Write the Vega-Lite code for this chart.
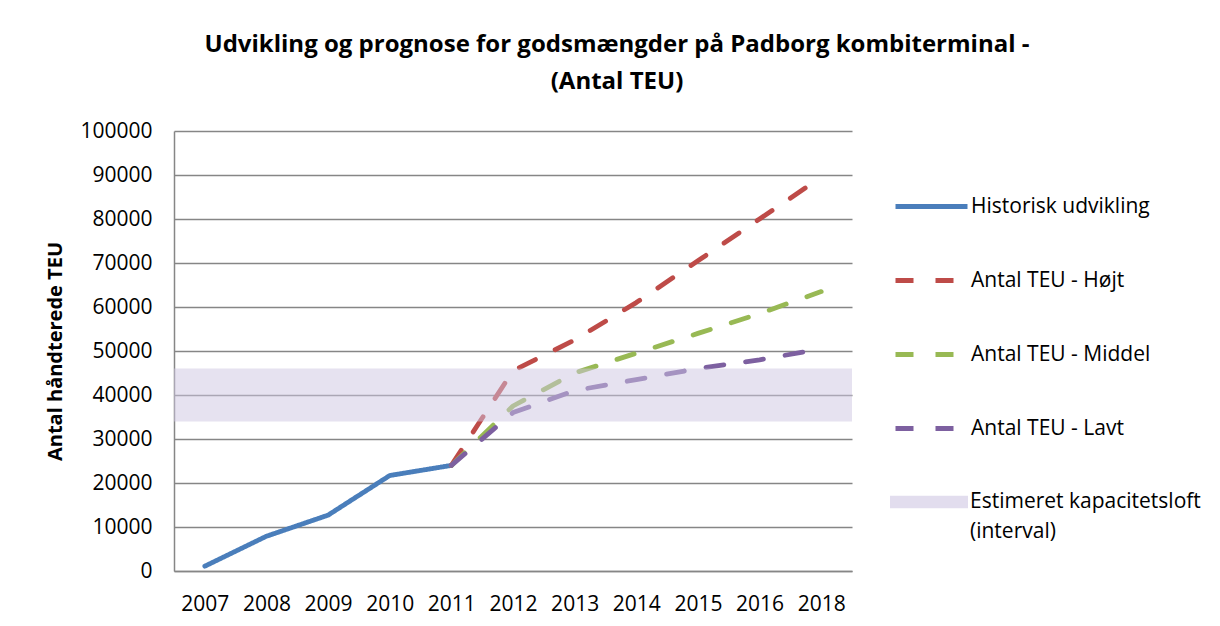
{
  "$schema": "https://vega.github.io/schema/vega-lite/v6.json",
  "width": 678,
  "height": 440,
  "autosize": {"type": "none"},
  "padding": {"left": 174, "top": 131, "right": 368, "bottom": 55},
  "background": "white",
  "title": {
    "text": ["Udvikling og prognose for godsmængder på Padborg kombiterminal -", "(Antal TEU)"],
    "font": "Open Sans",
    "fontSize": 24,
    "fontWeight": "bold",
    "color": "#000000",
    "lineHeight": 37,
    "anchor": "middle",
    "frame": "group",
    "dx": 104,
    "offset": 26
  },
  "config": {
    "view": {"stroke": null},
    "font": "Open Sans",
    "style": {"guide-label": {"lineHeight": 30}},
    "axis": {
      "labelFont": "Open Sans",
      "labelFontSize": 21,
      "labelColor": "#000000",
      "titleFont": "Open Sans",
      "domainColor": "#868686",
      "domainWidth": 1.5,
      "gridColor": "#868686",
      "gridWidth": 1.5,
      "ticks": false
    },
    "legend": {
      "labelFont": "Open Sans",
      "labelFontSize": 21,
      "labelColor": "#000000",
      "labelLimit": 400
    }
  },
  "datasets": {
    "lines": [
      {"year": "2007", "series": "Historisk udvikling", "teu": 1100},
      {"year": "2008", "series": "Historisk udvikling", "teu": 7900},
      {"year": "2009", "series": "Historisk udvikling", "teu": 12700},
      {"year": "2010", "series": "Historisk udvikling", "teu": 21700},
      {"year": "2011", "series": "Historisk udvikling", "teu": 24000},
      {"year": "2011", "series": "Antal TEU - Højt", "teu": 24000},
      {"year": "2012", "series": "Antal TEU - Højt", "teu": 45500},
      {"year": "2013", "series": "Antal TEU - Højt", "teu": 52500},
      {"year": "2014", "series": "Antal TEU - Højt", "teu": 61000},
      {"year": "2015", "series": "Antal TEU - Højt", "teu": 70500},
      {"year": "2016", "series": "Antal TEU - Højt", "teu": 80000},
      {"year": "2018", "series": "Antal TEU - Højt", "teu": 89500},
      {"year": "2011", "series": "Antal TEU - Middel", "teu": 24000},
      {"year": "2012", "series": "Antal TEU - Middel", "teu": 37500},
      {"year": "2013", "series": "Antal TEU - Middel", "teu": 45000},
      {"year": "2014", "series": "Antal TEU - Middel", "teu": 49500},
      {"year": "2015", "series": "Antal TEU - Middel", "teu": 54000},
      {"year": "2016", "series": "Antal TEU - Middel", "teu": 58500},
      {"year": "2018", "series": "Antal TEU - Middel", "teu": 63500},
      {"year": "2011", "series": "Antal TEU - Lavt", "teu": 24000},
      {"year": "2012", "series": "Antal TEU - Lavt", "teu": 36000},
      {"year": "2013", "series": "Antal TEU - Lavt", "teu": 41000},
      {"year": "2014", "series": "Antal TEU - Lavt", "teu": 43500},
      {"year": "2015", "series": "Antal TEU - Lavt", "teu": 46000},
      {"year": "2016", "series": "Antal TEU - Lavt", "teu": 48000},
      {"year": "2018", "series": "Antal TEU - Lavt", "teu": 50500}
    ],
    "band": [
      {"name": "Estimeret kapacitetsloft (interval)", "low": 34000, "high": 46000}
    ]
  },
  "layer": [
    {
      "data": {"name": "lines"},
      "mark": {"type": "line", "strokeWidth": 4.8, "strokeCap": "round", "strokeJoin": "round"},
      "encoding": {
        "x": {
          "field": "year",
          "type": "ordinal",
          "scale": {"domain": ["2007","2008","2009","2010","2011","2012","2013","2014","2015","2016","2018"], "paddingInner": 0, "paddingOuter": 0.5},
          "axis": {"title": null, "labelAngle": 0, "labelPadding": 22, "grid": false}
        },
        "y": {
          "field": "teu",
          "type": "quantitative",
          "scale": {"domain": [0, 100000], "nice": false},
          "axis": {
            "title": "Antal håndterede TEU",
            "titleFontSize": 20,
            "titleFontWeight": "bold",
            "titleColor": "#000000",
            "titlePadding": 14,
            "values": [0,10000,20000,30000,40000,50000,60000,70000,80000,90000,100000],
            "format": "d",
            "labelPadding": 22,
            "grid": true
          }
        },
        "color": {
          "field": "series",
          "type": "nominal",
          "scale": {
            "domain": ["Historisk udvikling", "Antal TEU - Højt", "Antal TEU - Middel", "Antal TEU - Lavt"],
            "range": ["#4A7EBB", "#BE4B48", "#98B954", "#7D60A0"]
          },
          "legend": {
            "title": null,
            "orient": "none",
            "legendX": 719,
            "legendY": 37,
            "symbolType": "stroke",
            "symbolSize": 5184,
            "symbolStrokeWidth": 4.8,
            "rowPadding": 25,
            "labelOffset": 1
          }
        },
        "strokeDash": {
          "field": "series",
          "type": "nominal",
          "scale": {
            "domain": ["Historisk udvikling", "Antal TEU - Højt", "Antal TEU - Middel", "Antal TEU - Lavt"],
            "range": [[1, 0], [18, 22], [18, 22], [18, 22]]
          },
          "legend": null
        },
        "order": {"field": "year"}
      }
    },
    {
      "data": {"name": "band"},
      "mark": {"type": "rect", "fill": "#CEC6E2", "fillOpacity": 0.5},
      "encoding": {
        "y": {"field": "low", "type": "quantitative"},
        "y2": {"field": "high"},
        "fill": {
          "field": "name",
          "type": "nominal",
          "scale": {"range": ["#CEC6E2"]},
          "legend": {
            "title": null,
            "orient": "none",
            "legendX": 716,
            "legendY": 332,
            "symbolType": "M-1,-0.16H1V0.16H-1Z",
            "symbolSize": 6084,
            "symbolStrokeWidth": 0,
            "symbolOpacity": 0.6,
            "labelOffset": 2,
            "labelExpr": "['Estimeret kapacitetsloft', '(interval)']"
          }
        }
      }
    }
  ]
}
